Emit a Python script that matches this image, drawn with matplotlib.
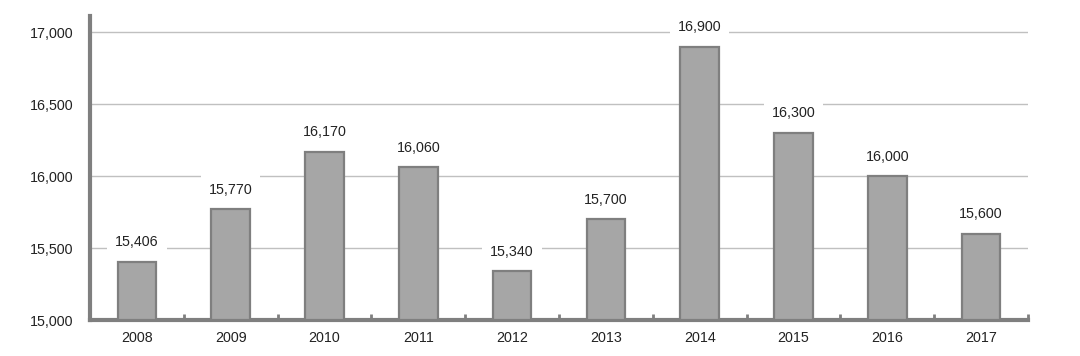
import matplotlib.pyplot as plt
import numpy as np
from matplotlib.ticker import FuncFormatter, FixedLocator

years = ['2008', '2009', '2010', '2011', '2012', '2013', '2014', '2015', '2016', '2017']
values = [15406, 15770, 16170, 16060, 15340, 15700, 16900, 16300, 16000, 15600]
yticks = [15000, 15500, 16000, 16500, 17000]

plt.rcParams['font.family'] = ['Liberation Sans', 'DejaVu Sans']

fig = plt.figure(figsize=(10.8, 3.56), dpi=100)
ax = fig.add_axes([0.0833, 0.1011, 0.8686, 0.8539])

x = np.arange(len(years))
ax.bar(x, [v - 15000 for v in values], bottom=15000, width=0.41,
       color='#a6a6a6', edgecolor='#7f7f7f', linewidth=1.6, zorder=3)

for xi, v in zip(x, values):
    ax.annotate(f'{v:,}', (xi, v), xytext=(0, 14), textcoords='offset points',
                ha='center', va='center', fontsize=10.3, color='#222222', zorder=4,
                bbox=dict(boxstyle='square,pad=0.55', fc='white', ec='none'))

ax.set_xlim(-0.5, len(years) - 0.5)
ax.set_ylim(15000, 17112)
ax.set_yticks(yticks)
ax.yaxis.set_major_formatter(FuncFormatter(lambda v, p: f'{int(v):,}'))
ax.tick_params(axis='y', length=0, pad=12, labelsize=10.3, labelcolor='#222222')
ax.set_xticks(x)
ax.set_xticklabels(years)
ax.tick_params(axis='x', which='major', length=0, pad=8, labelsize=10.3, labelcolor='#222222')
ax.xaxis.set_minor_locator(FixedLocator(np.arange(0.5, len(years), 1.0)))
ax.tick_params(axis='x', which='minor', direction='in', length=4, width=2, color='#7f7f7f')

for y in yticks[1:]:
    ax.axhline(y, color='#c0c0c0', linewidth=1, zorder=1)

for s in ['top', 'right']:
    ax.spines[s].set_visible(False)
for s in ['left', 'bottom']:
    ax.spines[s].set_color('#7f7f7f')
    ax.spines[s].set_linewidth(3)

fig.savefig('out.png', dpi=100)
